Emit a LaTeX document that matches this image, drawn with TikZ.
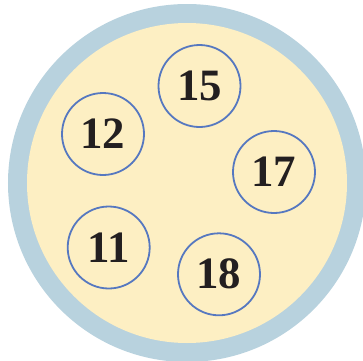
\documentclass[tikz,border=0pt]{standalone}
\usepackage{fontspec}
\setmainfont{Liberation Serif}
\definecolor{ringblue}{HTML}{B8D2DE}
\definecolor{cream}{HTML}{FDEFC3}
\definecolor{edgeblue}{HTML}{5678C0}
\definecolor{ink}{HTML}{231F20}
\tikzset{
    ball/.style={circle, draw=edgeblue, line width=1.8bp, fill=cream, inner sep=0pt,
        minimum size=82bp, text=ink, font=\fontsize{45}{45}\selectfont\bfseries}
}
\begin{document}
\begin{tikzpicture}[x=1bp, y=-1bp]
    \clip (0,0) rectangle (363,361);
    \fill[ringblue] (187,183) circle (179bp);
    \fill[cream] (187,183) circle (160bp);
    \node[ball] (n15) at (199.5,86) {15};
    \node[ball] (n12) at (103,134) {12};
    \node[ball] (n17) at (274,172) {17};
    \node[ball] (n11) at (108.7,247.5) {11};
    \node[ball] (n18) at (219,274.3) {18};
\end{tikzpicture}
\end{document}
